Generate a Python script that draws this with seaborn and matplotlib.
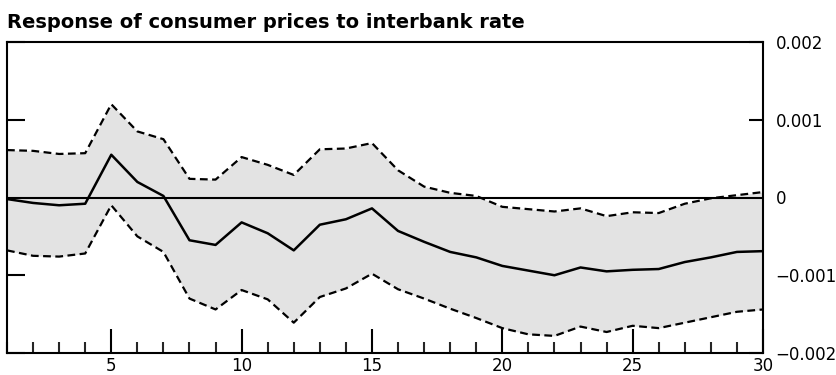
"""
Impulse response chart: consumer prices to an interbank rate shock,
with the shaded confidence band.
"""
import numpy as np
import pandas as pd
import matplotlib
matplotlib.use("Agg")
import matplotlib.pyplot as plt
import matplotlib.ticker as mticker
import seaborn as sns

# ── Data ──────────────────────────────────────────────────────────────────────

horizon = list(range(1, 31))

response = [
    -0.00002, -0.00007, -0.00010, -0.00008, 0.00055, 0.00020, 0.00002,
    -0.00055, -0.00061, -0.00032, -0.00046, -0.00068, -0.00035, -0.00028,
    -0.00014, -0.00043, -0.00057, -0.00070, -0.00077, -0.00088, -0.00094,
    -0.00100, -0.00090, -0.00095, -0.00093, -0.00092, -0.00083, -0.00077,
    -0.00070, -0.00069,
]

upper = [
    0.00061, 0.00060, 0.00056, 0.00057, 0.00120, 0.00085, 0.00075,
    0.00024, 0.00023, 0.00052, 0.00042, 0.00029, 0.00062, 0.00063,
    0.00070, 0.00035, 0.00014, 0.00006, 0.00002, -0.00012, -0.00015,
    -0.00018, -0.00014, -0.00024, -0.00019, -0.00020, -0.00008, -0.00001,
    0.00003, 0.00007,
]

lower = [
    -0.00068, -0.00075, -0.00076, -0.00072, -0.00010, -0.00050, -0.00070,
    -0.00130, -0.00144, -0.00119, -0.00131, -0.00161, -0.00128, -0.00117,
    -0.00098, -0.00118, -0.00130, -0.00143, -0.00155, -0.00168, -0.00176,
    -0.00178, -0.00166, -0.00173, -0.00165, -0.00168, -0.00161, -0.00154,
    -0.00147, -0.00144,
]

y_ticks = [-0.002, -0.001, 0, 0.001, 0.002]
y_tick_labels = ["\u22120.002", "\u22120.001", "0", "0.001", "0.002"]
title = "Response of consumer prices to interbank rate"

df = pd.DataFrame({"h": horizon, "mid": response, "hi": upper, "lo": lower})

# ── Plot ──────────────────────────────────────────────────────────────────────

sns.set_theme(style="ticks")
plt.rcParams["font.family"] = ["DejaVu Sans"]
plt.rcParams["text.color"] = "black"

fig = plt.figure(figsize=(8.37, 3.75), dpi=100)
ax = fig.add_axes([7 / 837, 22 / 375, 756 / 837, 311 / 375])

ax.fill_between(df["h"], df["lo"], df["hi"], color="#e3e3e3", linewidth=0)
ax.axhline(0, color="black", linewidth=1.5)
sns.lineplot(data=df, x="h", y="hi", ax=ax, color="black", linewidth=1.6,
             dashes=False, linestyle=(0, (3.5, 2)))
sns.lineplot(data=df, x="h", y="lo", ax=ax, color="black", linewidth=1.6,
             dashes=False, linestyle=(0, (3.5, 2)))
sns.lineplot(data=df, x="h", y="mid", ax=ax, color="black", linewidth=1.8)

ax.set_xlim(1, 30)
ax.set_ylim(-0.002, 0.002)
ax.set_xlabel("")
ax.set_ylabel("")

for s in ax.spines.values():
    s.set_visible(True)
    s.set_color("black")
    s.set_linewidth(1.5)

# x axis: major every 5, minor every 1, all pointing in
ax.xaxis.set_major_locator(mticker.MultipleLocator(5))
ax.xaxis.set_minor_locator(mticker.MultipleLocator(1))
ax.tick_params(axis="x", which="major", direction="in", length=17, width=1.5,
               labelsize=12, pad=3, colors="black")
ax.tick_params(axis="x", which="minor", direction="in", length=8, width=1.5)

# y axis: labels on the right, ticks on both sides
ax.set_yticks(y_ticks)
ax.set_yticklabels(y_tick_labels)
ax.yaxis.tick_right()
ax.tick_params(axis="y", which="major", direction="in", length=10, width=1.5,
               labelsize=12, pad=9, left=True, right=True,
               labelleft=False, labelright=True, colors="black")
# left-side ticks are a bit longer than the right-side ones
for t in ax.yaxis.get_major_ticks():
    t.tick1line.set_markersize(13)

fig.text(7 / 837, 1 - 22 / 375, title, fontsize=14, fontweight="bold",
         color="black", ha="left", va="center")

fig.savefig("out.png", dpi=100)
